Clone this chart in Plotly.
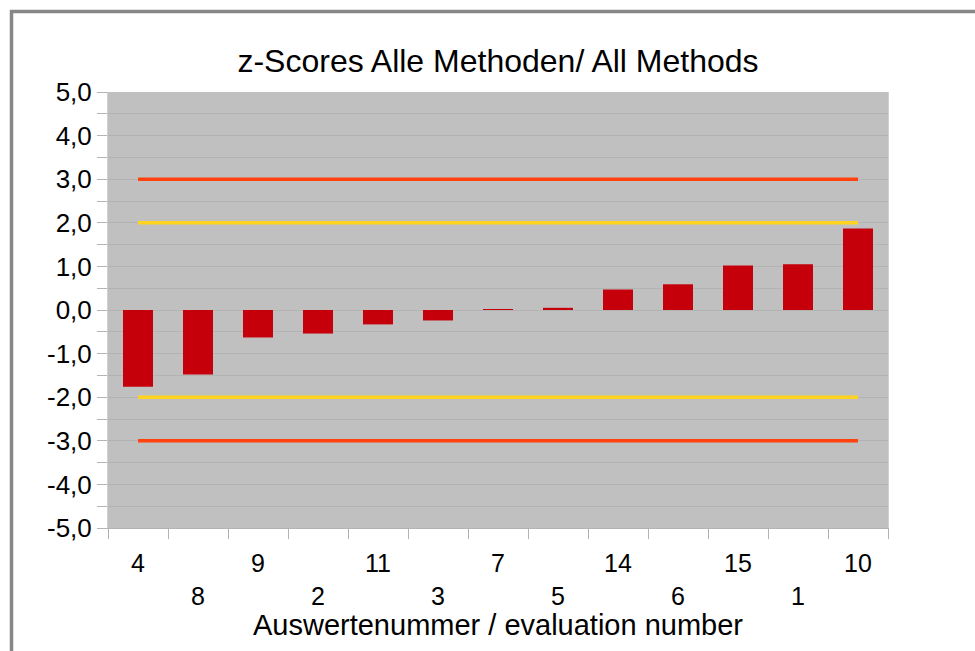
import plotly.graph_objects as go

# ---- data ----
categories = ["4", "8", "9", "2", "11", "3", "7", "5", "14", "6", "15", "1", "10"]
z_scores = [-1.76, -1.48, -0.63, -0.54, -0.33, -0.24, 0.02, 0.05, 0.47, 0.59, 1.02, 1.05, 1.87]
warn_limit = 2.0
action_limit = 3.0
y_tickvals = [-5, -4, -3, -2, -1, 0, 1, 2, 3, 4, 5]
y_ticktext = ["-5,0", "-4,0", "-3,0", "-2,0", "-1,0", "0,0", "1,0", "2,0", "3,0", "4,0", "5,0"]
title_text = "z-Scores Alle Methoden/ All Methods"
x_title = "Auswertenummer / evaluation number"

FONT = "Liberation Sans, Arial, sans-serif"
GRID = "#b3b3b3"
n = len(categories)
ymin, ymax = y_tickvals[0], y_tickvals[-1]

W, H = 975, 651
L, R, T, B = 108, 87, 92, 123
PW, PH = W - L - R, H - T - B

# staggered labels: every second label on a second line
x_ticktext = [c if i % 2 == 0 else "<br>" + c for i, c in enumerate(categories)]
boundaries = [i - 0.5 for i in range(n + 1)]

fig = go.Figure()
fig.add_bar(x=categories, y=z_scores, marker_color="#C5000B",
            marker_line_width=0, width=0.5, showlegend=False)
for lim, col in [(action_limit, "#FF420E"), (warn_limit, "#FFD320")]:
    for s in (1, -1):
        fig.add_scatter(x=[categories[0], categories[-1]], y=[s * lim, s * lim],
                        mode="lines", line=dict(color=col, width=3.5),
                        showlegend=False, hoverinfo="skip")

fig.update_layout(
    width=W, height=H,
    margin=dict(l=L, r=R, t=T, b=B),
    paper_bgcolor="white", plot_bgcolor="#C0C0C0",
    font=dict(family=FONT, color="black"),
    title=dict(text=title_text, x=0.5, xref="paper", xanchor="center",
               y=1 - 60.5 / H, yref="container", yanchor="middle",
               font=dict(size=32, color="black", family=FONT)),
    xaxis=dict(type="category", categoryorder="array", categoryarray=categories,
               range=[-0.5, n - 0.5], tickmode="array", tickvals=categories,
               ticktext=x_ticktext, tickson="boundaries", ticks="outside",
               ticklen=10, tickcolor=GRID, showgrid=False, zeroline=False,
               showline=True, linecolor=GRID, automargin=False,
               ticklabelstandoff=13,
               tickfont=dict(size=25, color="black"),
               title=dict(text=x_title, font=dict(size=29, color="black"), standoff=3)),
    xaxis2=dict(overlaying="x", anchor="free", position=(0 - ymin) / (ymax - ymin),
                side="bottom", range=[-0.5, n - 0.5], tickmode="array",
                tickvals=boundaries, ticks="outside", ticklen=11, tickcolor=GRID,
                showticklabels=False, showgrid=False, zeroline=False, showline=False),
    yaxis=dict(range=[ymin, ymax], tickmode="array", tickvals=y_tickvals,
               ticktext=y_ticktext, ticks="outside", ticklen=10, tickcolor=GRID,
               showgrid=True, gridcolor=GRID, gridwidth=1, zeroline=False,
               showline=True, linecolor="#d0d0d0", mirror=True, automargin=False,
               tickfont=dict(size=26, color="black"),
               minor=dict(tick0=0, dtick=0.5, ticks="outside", ticklen=10,
                          tickcolor=GRID, showgrid=True, gridcolor=GRID)),
    shapes=[dict(type="rect", xref="paper", yref="paper",
                 x0=(11.5 - L) / PW, x1=1.3, y0=-0.4, y1=1 + (T - 11.5) / PH,
                 line=dict(color="#878787", width=3.5), fillcolor="rgba(0,0,0,0)",
                 layer="above")],
)

fig.write_html(
    "out.html",
    config={"displayModeBar": False},
    post_script="document.body.style.margin='0';"
                "document.documentElement.style.overflow='hidden';",
)
